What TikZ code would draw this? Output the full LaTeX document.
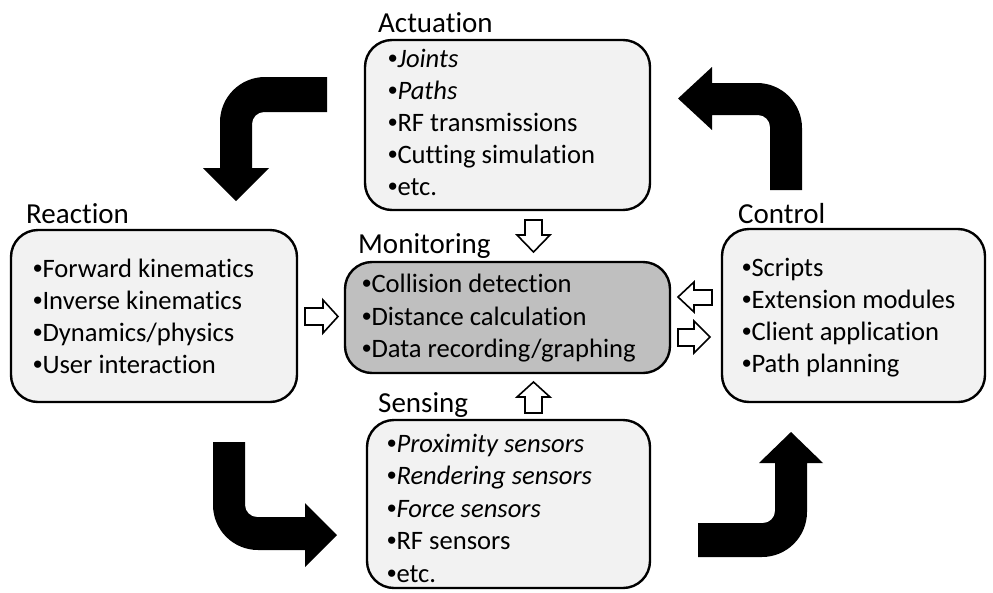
\documentclass[tikz,border=0pt]{standalone}
\usepackage{fontspec}
\setmainfont[Ligatures=NoCommon]{Carlito}
\newfontfamily\bulfont{Liberation Sans}
\newcommand{\bul}{{\bulfont •}}
\begin{document}
\begin{tikzpicture}[x=1pt,y=-1pt,
  box/.style={draw=black, line width=2.4pt, rounded corners=27pt, fill=boxgray, inner sep=0pt},
  item/.style={anchor=base west, inner sep=0pt, font=\fontsize{26.6}{30}\selectfont},
  ttl/.style={anchor=base west, inner sep=0pt, font=\fontsize{29}{34}\selectfont},
  blk/.style={fill=black},
  wht/.style={fill=white, draw=black, line width=1.6pt, line join=miter}]
\definecolor{boxgray}{HTML}{F2F2F2}
\definecolor{mongray}{HTML}{BFBFBF}
\useasboundingbox (0,0) rectangle (993,592);

% boxes
\node[box, minimum width=285pt, minimum height=170pt] (act) at (507.5,125) {};
\node[box, minimum width=286pt, minimum height=172pt] (rea) at (154,316) {};
\node[box, minimum width=263pt, minimum height=173pt] (con) at (853.5,315.5) {};
\node[box, minimum width=283pt, minimum height=168pt] (sen) at (508.5,504) {};
\node[box, fill=mongray, minimum width=325pt, minimum height=111pt] (mon) at (507.5,317.5) {};

% titles
\node[ttl] (tact) at (378,32) {Actuation};
\node[ttl] (trea) at (26,223) {Reaction};
\node[ttl] (tcon) at (738,223) {Control};
\node[ttl] (tsen) at (378,412) {Sensing};
\node[ttl] (tmon) at (358,253) {Monitoring};

% actuation items
\node[item] (a1) at (388,67) {\bul\textit{Joints}};
\node[item] (a2) at (388,99) {\bul\textit{Paths}};
\node[item] (a3) at (388,131) {\bul RF transmissions};
\node[item] (a4) at (388,163) {\bul Cutting simulation};
\node[item] (a5) at (388,195) {\bul etc.};

% reaction items
\node[item] (r1) at (33,277) {\bul Forward kinematics};
\node[item] (r2) at (33,309) {\bul Inverse kinematics};
\node[item] (r3) at (33,341) {\bul Dynamics/physics};
\node[item] (r4) at (33,373) {\bul User interaction};

% control items
\node[item] (c1) at (742,276) {\bul Scripts};
\node[item] (c2) at (742,308) {\bul Extension modules};
\node[item] (c3) at (742,340) {\bul Client application};
\node[item] (c4) at (742,372) {\bul Path planning};

% sensing items
\node[item] (s1) at (387,452) {\bul\textit{Proximity sensors}};
\node[item] (s2) at (387,484) {\bul\textit{Rendering sensors}};
\node[item] (s3) at (387,517) {\bul\textit{Force sensors}};
\node[item] (s4) at (387,549) {\bul RF sensors};
\node[item] (s5) at (387,582) {\bul etc.};

% monitoring items
\node[item] (m1) at (362,292) {\bul Collision detection};
\node[item] (m2) at (362,325) {\bul Distance calculation};
\node[item] (m3) at (362,357) {\bul Data recording/graphing};

% black bent arrows
\fill[blk] (327,77) -- (265,77) arc[start angle=270, end angle=180, radius=45]
  -- (220,168) -- (203,168) -- (236,201) -- (269,168) -- (252,168) -- (252,124)
  arc[start angle=180, end angle=270, radius=12] -- (327,112) -- cycle;
\fill[blk] (712,83) -- (757,83) arc[start angle=270, end angle=360, radius=45]
  -- (802,190) -- (770,190) -- (770,127) arc[start angle=0, end angle=-90, radius=12]
  -- (712,115) -- (712,130) -- (678,98.5) -- (712,67) -- cycle;
\fill[blk] (213,442) -- (245,442) -- (245,505) arc[start angle=180, end angle=90, radius=12]
  -- (305,517) -- (305,503) -- (337,535) -- (305,567) -- (305,550) -- (258,550)
  arc[start angle=90, end angle=180, radius=45] -- cycle;
\fill[blk] (698,523) -- (763,523) arc[start angle=90, end angle=0, radius=12]
  -- (775,463) -- (759,463) -- (791,432) -- (823,463) -- (807,463) -- (807,512)
  arc[start angle=0, end angle=90, radius=45] -- (698,557) -- cycle;

% white block arrows
\draw[wht] (525,220) -- (542,220) -- (542,235) -- (550,235) -- (533.5,252) -- (517,235) -- (525,235) -- cycle;
\draw[wht] (525,413) -- (542,413) -- (542,397) -- (550,397) -- (533.5,382) -- (517,397) -- (525,397) -- cycle;
\draw[wht] (305,308) -- (323,308) -- (323,300) -- (338,316.5) -- (323,333) -- (323,325) -- (305,325) -- cycle;
\draw[wht] (712,290) -- (694,290) -- (694,282) -- (678,297) -- (694,312) -- (694,305) -- (712,305) -- cycle;
\draw[wht] (678,329) -- (694,329) -- (694,321) -- (710,337) -- (694,353) -- (694,346) -- (678,346) -- cycle;
\end{tikzpicture}
\end{document}
